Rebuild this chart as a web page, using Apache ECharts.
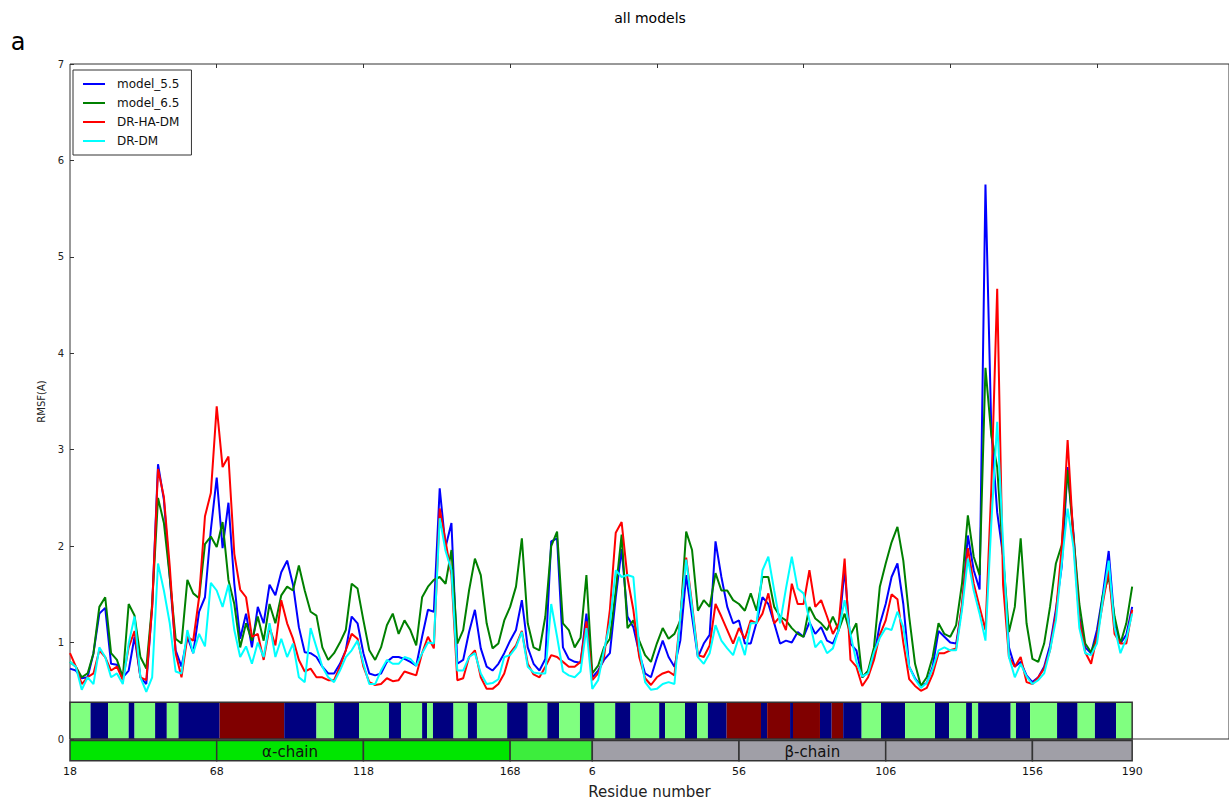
<!DOCTYPE html>
<html>
<head>
<meta charset="utf-8">
<script src="https://cdn.jsdelivr.net/npm/echarts@6/dist/echarts.min.js"></script>
<style>
html,body{margin:0;padding:0;background:#fff;}
#chart{width:1229px;height:806px;}
</style>
</head>
<body>
<div id="chart"></div>
<script>
// ---- categories: residues (every second residue) ----
const alphaResidues = [];
for (let r = 18; r <= 194; r += 2) alphaResidues.push(r);
const betaResidues = [];
for (let r = 6; r <= 190; r += 2) betaResidues.push(r);
const alphaTickResidues = [18, 68, 118, 168];
const betaTickResidues = [6, 56, 106, 156, 190];

// ---- series values (RMSF, A) ----
const model55 = [0.73,0.71,0.63,0.64,0.89,1.30,1.36,0.78,0.77,0.64, 0.71,1.06,0.64,0.57,1.37,2.85,2.48,1.68,0.92,0.75, 1.06,0.89,1.32,1.47,2.17,2.71,1.98,2.45,1.61,1.04, 1.30,0.95,1.37,1.20,1.60,1.49,1.73,1.85,1.60,1.16, 0.90,0.89,0.85,0.75,0.68,0.68,0.78,0.92,1.27,1.20, 0.89,0.68,0.66,0.68,0.80,0.85,0.85,0.83,0.80,0.76, 1.06,1.34,1.32,2.60,1.99,2.24,0.78,0.82,1.11,1.34, 0.94,0.75,0.71,0.78,0.89,1.02,1.13,1.44,0.95,0.78, 0.71,0.83,2.05,2.08,0.95,0.83,0.80,0.79,1.30,0.64, 0.71,0.82,0.89,1.47,1.97,1.27,1.16,0.89,0.68,0.64, 0.84,1.02,0.85,0.75,1.02,1.70,1.27,0.85,0.99,1.08, 2.05,1.68,1.37,1.20,1.23,0.99,0.99,1.21,1.47,1.40, 1.20,0.99,1.02,1.00,1.11,1.06,1.21,1.09,1.16,1.02, 0.99,1.13,1.76,0.99,0.92,0.64,0.70,0.85,1.19,1.40, 1.68,1.82,1.40,0.75,0.63,0.55,0.58,0.75,1.12,1.06, 1.00,0.99,1.37,2.11,1.75,1.55,5.75,3.20,2.35,1.90, 0.95,0.75,0.80,0.66,0.59,0.64,0.75,0.97,1.34,1.79, 2.82,2.13,1.27,0.95,0.89,1.13,1.50,1.95,1.20,0.99, 1.08,1.37];
const model65 = [0.80,0.75,0.64,0.68,0.89,1.37,1.47,0.89,0.82,0.64, 1.40,1.28,0.85,0.73,1.40,2.50,2.24,1.68,1.04,0.99, 1.65,1.51,1.46,2.02,2.10,1.99,2.25,1.65,1.40,0.95, 1.20,1.02,1.27,1.02,1.40,1.20,1.49,1.58,1.54,1.80, 1.54,1.32,1.28,0.95,0.82,0.89,1.00,1.13,1.61,1.56, 1.23,0.92,0.82,0.95,1.18,1.30,1.09,1.23,1.13,0.97, 1.47,1.58,1.65,1.68,1.61,1.96,0.99,1.13,1.54,1.87, 1.70,1.20,0.94,0.99,1.23,1.37,1.58,2.08,1.20,0.95, 0.92,1.27,2.00,2.15,1.20,1.13,0.95,1.05,1.70,0.68, 0.76,0.95,1.04,1.54,2.12,1.15,1.23,1.02,0.87,0.80, 0.99,1.15,1.04,1.09,1.23,2.15,1.96,1.33,1.44,1.37, 1.72,1.54,1.54,1.44,1.40,1.33,1.51,1.33,1.68,1.68, 1.37,1.27,1.23,1.15,1.09,1.06,1.37,1.25,1.20,1.13, 1.27,1.13,1.30,1.08,1.20,0.64,0.71,0.95,1.58,1.82, 2.04,2.20,1.85,1.27,0.78,0.55,0.64,0.85,1.20,1.09, 1.06,1.18,1.61,2.32,1.89,1.70,3.85,3.15,2.82,1.89, 1.11,1.37,2.08,1.20,0.83,0.80,0.99,1.37,1.82,2.01, 2.79,2.10,1.40,0.99,0.90,1.06,1.49,1.68,1.27,0.99, 1.20,1.58];
const drHaDm = [0.89,0.75,0.57,0.64,0.68,0.92,0.85,0.71,0.75,0.61, 0.95,1.12,0.64,0.61,1.37,2.80,2.51,1.79,0.89,0.64, 1.06,1.02,1.47,2.31,2.55,3.45,2.82,2.93,1.92,1.55, 1.47,1.06,1.09,0.82,1.16,0.97,1.44,1.20,1.04,0.82, 0.70,0.73,0.64,0.64,0.61,0.61,0.75,0.92,1.09,1.04, 0.75,0.59,0.56,0.57,0.63,0.60,0.61,0.70,0.68,0.66, 0.89,1.06,0.94,2.39,2.05,1.70,0.61,0.63,0.85,0.92, 0.64,0.52,0.52,0.57,0.68,0.89,0.97,1.12,0.78,0.67, 0.64,0.75,0.87,0.85,0.80,0.75,0.75,0.80,1.22,0.61, 0.68,0.85,1.34,2.14,2.25,1.67,1.34,0.85,0.63,0.56, 0.64,0.68,0.70,0.66,1.27,1.88,1.40,0.87,0.85,0.97, 1.40,1.27,1.13,0.99,1.15,1.04,1.23,1.20,1.30,1.51, 1.20,1.27,1.13,1.61,1.40,1.40,1.75,1.37,1.44,1.27, 1.09,1.20,1.87,0.82,0.75,0.55,0.64,0.82,1.08,1.23, 1.50,1.45,1.00,0.62,0.55,0.50,0.53,0.67,0.89,0.89, 0.92,0.94,1.40,1.98,1.61,1.37,1.13,2.60,4.67,1.60, 0.85,0.75,0.85,0.59,0.57,0.64,0.73,0.92,1.30,1.99, 3.10,2.06,1.23,0.90,0.78,1.06,1.41,1.75,1.09,0.99, 0.99,1.34];
const drDm = [0.80,0.75,0.51,0.64,0.57,0.95,0.85,0.64,0.68,0.57, 0.99,1.27,0.64,0.49,0.64,1.82,1.54,1.20,0.70,0.68, 1.13,0.89,1.09,0.96,1.62,1.54,1.37,1.60,1.13,0.85, 0.96,0.78,1.00,0.85,1.20,0.85,1.04,0.85,0.99,0.64, 0.59,1.15,0.95,0.75,0.64,0.59,0.71,0.85,0.92,1.02, 0.78,0.57,0.57,0.71,0.82,0.78,0.78,0.85,0.83,0.76, 0.89,1.00,0.99,2.29,1.95,1.75,0.71,0.71,0.85,0.89, 0.68,0.57,0.58,0.62,0.85,0.87,0.95,1.11,0.75,0.69, 0.68,0.68,1.40,1.06,0.70,0.66,0.64,0.70,1.15,0.52, 0.61,0.92,1.20,1.75,1.68,1.70,1.68,0.95,0.59,0.51, 0.52,0.57,0.59,0.57,1.27,1.86,1.37,0.85,0.78,0.89, 1.18,1.02,0.94,0.87,1.06,0.87,1.20,1.20,1.75,1.89, 1.54,1.20,1.56,1.89,1.56,1.51,1.23,0.95,1.02,0.89, 0.94,1.13,1.44,1.09,0.80,0.65,0.68,0.90,1.05,1.15, 1.13,1.32,1.16,0.75,0.62,0.53,0.58,0.73,0.92,0.95, 0.92,0.92,1.34,1.87,1.54,1.30,1.02,2.24,3.29,2.03, 0.85,0.64,0.78,0.65,0.57,0.61,0.68,0.92,1.23,1.82, 2.39,1.99,1.15,0.89,0.87,0.99,1.44,1.85,1.16,0.89, 1.04,1.30];

const seriesNames = ['model_5.5', 'model_6.5', 'DR-HA-DM', 'DR-DM'];
const seriesColors = ['#0000ff', '#008000', '#ff0000', '#00ffff'];
const seriesValues = [model55, model65, drHaDm, drDm];

// ---- secondary structure strip (position start, end, type) ----
const ssStart = [0,7,13,20,22,29,33,37,51,73,84,90,98.5,108.7,112.8,120,121.7,123.7,130.7,135.6,138.7,149,156,162.7,166.7,173.8,178.8,185.8,191,200.8,202.8,209.6,213.7,217.4,223.8,235.5,237.6,245.4,246.4,255.6,259.6,263.5,269.8,276.4,284.6,294.8,299.6,305.4,307.4,309.5,320.6,322.4,327.2,336.4,343.4,349.3,356.5];
const ssEnd   = [7,13,20,22,29,33,37,51,73,84,90,98.5,108.7,112.8,120,121.7,123.7,130.7,135.6,138.7,149,156,162.7,166.7,173.8,178.8,185.8,191,200.8,202.8,209.6,213.7,217.4,223.8,235.5,237.6,245.4,246.4,255.6,259.6,263.5,269.8,276.4,284.6,294.8,299.6,305.4,307.4,309.5,320.6,322.4,327.2,336.4,343.4,349.3,356.5,362];
const ssType  = ['L','N','L','N','L','N','L','N','R','N','L','N','L','N','L','N','L','N','L','N','L','N','L','N','L','N','L','N','L','N','L','N','L','N','R','N','R','N','R','N','R','N','L','N','L','N','L','N','L','N','L','N','L','N','L','N','L'];
const ssColors = { L: '#80ff80', N: '#000080', R: '#800000' };

// ---- chain strip ----
const chainStart = [0, 50, 100, 150, 178, 228, 278, 328];
const chainEnd   = [50, 100, 150, 178, 228, 278, 328, 362];
const chainColor = ['#00e600', '#00e600', '#00e600', '#3ded3d', '#a09fa7', '#a09fa7', '#a09fa7', '#a09fa7'];
const chainLabel = ['', 'α-chain', '', '', '', 'β-chain', '', ''];

// ---- build ----
const positions = [...alphaResidues.map(r => r - 18), ...betaResidues.map(r => 178 + r - 6)];
const tickPos = [...alphaTickResidues.map(r => r - 18), ...betaTickResidues.map(r => 178 + r - 6)];
const tickText = [...alphaTickResidues, ...betaTickResidues].map(String);

const FONT = 'DejaVu Sans';
const ssTop = 0.38, chainTop = -0.015, chainBot = -0.225;

const lineSeries = seriesNames.map((name, s) => ({
  name, type: 'line', xAxisIndex: 0, yAxisIndex: 0,
  data: positions.map((p, k) => [p, seriesValues[s][k]]),
  showSymbol: false, symbol: 'none',
  lineStyle: { width: 2, color: seriesColors[s] },
  itemStyle: { color: seriesColors[s] },
  animation: false, z: 3
}));

const ssSeries = {
  type: 'custom', clip: false, silent: true, z: 4,
  data: ssStart.map((s, k) => [s, ssEnd[k], k]),
  renderItem: (params, api) => {
    const k = api.value(2);
    const p0 = api.coord([api.value(0), ssTop]);
    const p1 = api.coord([api.value(1), 0]);
    return { type: 'rect', shape: { x: p0[0], y: p0[1], width: p1[0] - p0[0], height: p1[1] - p0[1] },
      style: { fill: ssColors[ssType[k]], stroke: null } };
  }
};
const ssFrame = {
  type: 'custom', clip: false, silent: true, z: 5,
  data: [[ssStart[0], ssEnd[ssEnd.length - 1], 0]],
  renderItem: (params, api) => {
    const p0 = api.coord([api.value(0), ssTop]);
    const p1 = api.coord([api.value(1), 0]);
    return { type: 'rect', shape: { x: p0[0], y: p0[1], width: p1[0] - p0[0], height: p1[1] - p0[1] },
      style: { fill: 'none', stroke: '#333', lineWidth: 1.5 } };
  }
};
const chainSeries = {
  type: 'custom', clip: false, silent: true, z: 4,
  data: chainStart.map((s, k) => [s, chainEnd[k], k]),
  renderItem: (params, api) => {
    const k = api.value(2);
    const p0 = api.coord([api.value(0), chainTop]);
    const p1 = api.coord([api.value(1), chainBot]);
    const children = [{ type: 'rect', shape: { x: p0[0], y: p0[1], width: p1[0] - p0[0], height: p1[1] - p0[1] },
      style: { fill: chainColor[k], stroke: '#333', lineWidth: 1.5 } }];
    if (chainLabel[k]) {
      children.push({ type: 'text', style: { text: chainLabel[k], x: (p0[0] + p1[0]) / 2, y: (p0[1] + p1[1]) / 2 + 1,
        align: 'center', verticalAlign: 'middle', font: '15px "' + FONT + '"', fill: '#111' } });
    }
    return { type: 'group', children };
  }
};

const chart = echarts.init(document.getElementById('chart'), null, { renderer: 'svg' });
chart.setOption({
  backgroundColor: '#fff',
  animation: false,
  textStyle: { fontFamily: FONT },
  graphic: [
    { type: 'text', x: 650, y: 18, style: { text: 'all models', font: '14px "' + FONT + '"', fill: '#000', align: 'center', verticalAlign: 'middle' } },
    { type: 'text', x: 18, y: 42, style: { text: 'a', font: '24px "' + FONT + '"', fill: '#000', align: 'center', verticalAlign: 'middle' } }
  ],
  legend: {
    data: seriesNames, orient: 'vertical', left: 73, top: 70,
    icon: 'rect', itemWidth: 22, itemHeight: 2, itemGap: 5,
    padding: [7, 12, 7, 10],
    borderColor: '#333', borderWidth: 1, borderRadius: 0, backgroundColor: '#fff',
    textStyle: { fontFamily: FONT, fontSize: 12, color: '#111', lineHeight: 14, padding: [0, 0, 0, 7] },
    selectedMode: false, z: 10
  },
  grid: { left: 70, right: 0, top: 64, bottom: 67, show: true, borderColor: '#333', borderWidth: 1,
    backgroundColor: 'transparent', containLabel: false, outerBoundsMode: 'none' },
  xAxis: [{
    type: 'value', min: 0, max: 395, position: 'bottom',
    name: 'Residue number', nameLocation: 'middle', nameGap: 45,
    nameTextStyle: { fontFamily: FONT, fontSize: 15, color: '#222' },
    axisLine: { show: false }, axisTick: { show: false }, splitLine: { show: false },
    axisLabel: { customValues: tickPos, formatter: v => tickText[tickPos.indexOf(v)], margin: 27,
      fontFamily: FONT, fontSize: 11, color: '#111' }
  }, {
    type: 'value', min: 0, max: 395, position: 'top',
    axisLine: { show: false }, splitLine: { show: false }, axisLabel: { show: false },
    axisTick: { show: true, inside: true, length: 4, customValues: [50, 100, 150, 200, 250, 300, 350], lineStyle: { color: '#333' } }
  }],
  yAxis: {
    type: 'value', min: 0, max: 7, interval: 1,
    name: 'RMSF(A)', nameLocation: 'middle', nameGap: 6, nameRotate: 90,
    nameTextStyle: { fontFamily: FONT, fontSize: 10, color: '#222' },
    axisLine: { show: false },
    axisTick: { show: true, inside: true, length: 4, lineStyle: { color: '#333' } },
    splitLine: { show: false },
    axisLabel: { fontFamily: FONT, fontSize: 10, color: '#222', margin: 6 }
  },
  series: [...lineSeries, ssSeries, ssFrame, chainSeries]
});
</script>
</body>
</html>
